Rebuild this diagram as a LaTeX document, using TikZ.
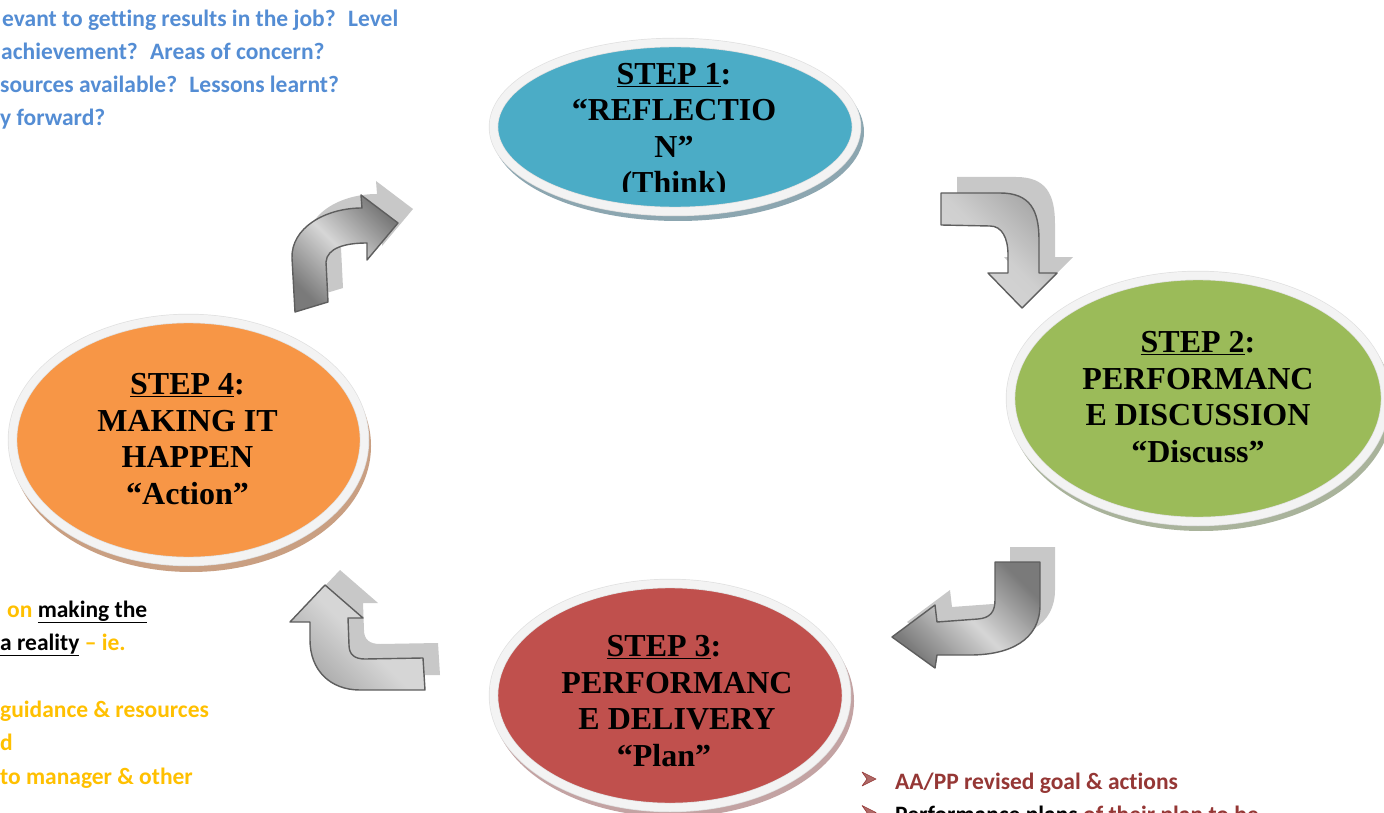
\documentclass[tikz,border=0pt]{standalone}
\usepackage{fontspec}
\setmainfont{Liberation Serif}
\newfontfamily\calibri[Ligatures=NoCommon]{Carlito}
\usetikzlibrary{shapes.geometric}

\definecolor{stepblue}{HTML}{4BACC6}
\definecolor{stepgreen}{HTML}{9BBB59}
\definecolor{stepred}{HTML}{C0504D}
\definecolor{steporange}{HTML}{F79646}
\definecolor{shblue}{HTML}{8CA6B0}
\definecolor{shgreen}{HTML}{A9B39B}
\definecolor{shred}{HTML}{C3A3A3}
\definecolor{shorange}{HTML}{C99F82}
\definecolor{rim}{HTML}{F3F3F3}
\definecolor{rimedge}{HTML}{E0E0E0}
\definecolor{noteblue}{RGB}{84,141,212}
\definecolor{noteorange}{HTML}{FFC000}
\definecolor{notered}{HTML}{953735}
\definecolor{arrowedge}{HTML}{5E5E5E}
\definecolor{arrowshadow}{HTML}{C8C8C8}
\definecolor{arrowdark}{HTML}{7A7A7A}
\definecolor{arrowmid}{HTML}{A8A8A8}
\definecolor{arrowlight}{HTML}{D6D6D6}

\tikzset{
  stepoval/.style={ellipse, draw=rimedge, double=rim, double distance=8pt,
    line width=0.7pt, inner sep=0pt},
  steptext/.style={font=\bfseries\fontsize{32}{36.5}\selectfont, align=center,
    inner sep=0pt},
  blockarrow/.style={draw=arrowedge, line width=1.4pt, line join=round},
  arrowcast/.style={fill=arrowshadow},
  note/.style={font=\calibri\bfseries\fontsize{23.5}{33.5}\selectfont,
    anchor=base west, inner sep=0pt},
  bullet/.style={fill=notered!75, draw=notered, line width=0.6pt, line join=round},
}

\begin{document}
\begin{tikzpicture}[x=1pt, y=-1pt]
\clip (0,0) rectangle (1384,813);
\fill[white] (0,0) rectangle (1384,813);

% ---------- oval shadows ----------
\fill[shblue]   (678,132) ellipse [x radius=186, y radius=89];
\fill[shgreen]  (1201,404) ellipse [x radius=192, y radius=127];
\fill[shred]    (673,701) ellipse [x radius=181, y radius=116];
\fill[shorange] (191,446) ellipse [x radius=180, y radius=126];

% ---------- the four step ovals ----------
\node[stepoval, fill=stepblue,   minimum width=363pt, minimum height=169pt] (s1) at (675,127) {};
\node[stepoval, fill=stepgreen,  minimum width=375pt, minimum height=246pt] (s2) at (1198,398.5) {};
\node[stepoval, fill=stepred,    minimum width=353pt, minimum height=224pt] (s3) at (670,695.5) {};
\node[stepoval, fill=steporange, minimum width=352pt, minimum height=243pt] (s4) at (188.5,440) {};

% ---------- oval texts ----------
\begin{scope}
  \clip (540,40) rectangle (810,191.5);
  \node[steptext] (t1) at (674,132) {\underline{STEP 1}:\\“REFLECTIO\\N”\\(Think)};
\end{scope}
\node[steptext] (t2) at (1198,397) {\underline{STEP 2}:\\PERFORMANC\\E DISCUSSION\\“Discuss”};
\node[steptext] (t3) at (677,701) {\underline{STEP 3}:\hspace*{26pt}\\PERFORMANC\\E DELIVERY\\“Plan”\hspace*{26pt}};
\node[steptext] (t4) at (187.5,439) {\underline{STEP 4}:\\MAKING IT\\HAPPEN\\“Action”};

% ---------- curved block arrows: cast shadows ----------
\fill[arrowcast, shift={(15,-14)}] (295,312) -- (292,258) .. controls (291,228) and (325,208) .. (362,208)
  -- (361,195) -- (398,223) -- (367,260) -- (367,243) .. controls (345,243) and (327,248) .. (326,262)
  -- (328,302) -- cycle;
\fill[arrowcast, shift={(16,-16)}] (941,193) -- (1000,193) .. controls (1030,193) and (1039,210) .. (1039,240)
  -- (1039,273) -- (1057,273) -- (1022,308) -- (988,273) -- (1008,273) -- (1008,255)
  .. controls (1008,238) and (1002,226) .. (990,226) -- (941,225) -- cycle;
\fill[arrowcast, shift={(15,-15)}] (995,562) -- (1040,562) -- (1040,605) .. controls (1040,640) and (1010,655) .. (970,655)
  -- (937,655) -- (935,668) -- (892,637) -- (935,605) -- (937,622) -- (978,619)
  .. controls (990,618) and (995,612) .. (995,600) -- cycle;
\fill[arrowcast, shift={(15,-15)}] (423,658) -- (425,690) -- (360,690) .. controls (330,690) and (310,670) .. (310,640)
  -- (310,622) -- (290,622) -- (325,585) -- (363,618) -- (348,618) -- (349,645)
  .. controls (349,655) and (355,659) .. (365,659) -- cycle;

% ---------- curved block arrows ----------
\draw[blockarrow, top color=arrowdark, bottom color=arrowdark, middle color=arrowlight, shading angle=-45]
  (295,312) -- (292,258) .. controls (291,228) and (325,208) .. (362,208)
  -- (361,195) -- (398,223) -- (367,260) -- (367,243) .. controls (345,243) and (327,248) .. (326,262)
  -- (328,302) -- cycle;
\draw[blockarrow, top color=arrowmid, bottom color=arrowlight, middle color=arrowlight!85!arrowmid, shading angle=-45]
  (941,193) -- (1000,193) .. controls (1030,193) and (1039,210) .. (1039,240)
  -- (1039,273) -- (1057,273) -- (1022,308) -- (988,273) -- (1008,273) -- (1008,255)
  .. controls (1008,238) and (1002,226) .. (990,226) -- (941,225) -- cycle;
\draw[blockarrow, top color=arrowdark, bottom color=arrowdark, middle color=arrowlight, shading angle=-45]
  (995,562) -- (1040,562) -- (1040,605) .. controls (1040,640) and (1010,655) .. (970,655)
  -- (937,655) -- (935,668) -- (892,637) -- (935,605) -- (937,622) -- (978,619)
  .. controls (990,618) and (995,612) .. (995,600) -- cycle;
\draw[blockarrow, top color=arrowlight, bottom color=arrowmid, middle color=arrowlight, shading angle=-45]
  (423,658) -- (425,690) -- (360,690) .. controls (330,690) and (310,670) .. (310,640)
  -- (310,622) -- (290,622) -- (325,585) -- (363,618) -- (348,618) -- (349,645)
  .. controls (349,655) and (355,659) .. (365,659) -- cycle;

% ---------- side notes ----------
\node[note, text=noteblue] (n1) at (2,27) {evant to getting results in the job?~ Level};
\node[note, text=noteblue] (n2) at (1,60) {achievement?~ Areas of concern?};
\node[note, text=noteblue] (n3) at (0,93) {sources available?~ Lessons learnt?};
\node[note, text=noteblue] (n4) at (0,126) {y forward?};

\node[note, text=noteorange] (m1) at (7,617) {on {\color{black}\underline{making the}}};
\node[note, text=noteorange] (m2) at (0,650) {{\color{black}\underline{a reality}} – ie.};
\node[note, text=noteorange] (m3) at (0,717) {guidance \& resources};
\node[note, text=noteorange] (m4) at (0,750.5) {d};
\node[note, text=noteorange] (m5) at (0,784) {to manager \& other};

\draw[bullet] (862,772) -- (876,779) -- (862,786) -- (867,779) -- cycle;
\draw[bullet] (862,805.5) -- (876,812.5) -- (862,819.5) -- (867,812.5) -- cycle;
\node[note, text=notered] (r1) at (895,789) {AA/PP revised goal \& actions};
\node[note, text=notered] (r2) at (895,822.5) {{\color{black}Performance plans} of their plan to be};
\end{tikzpicture}
\end{document}
